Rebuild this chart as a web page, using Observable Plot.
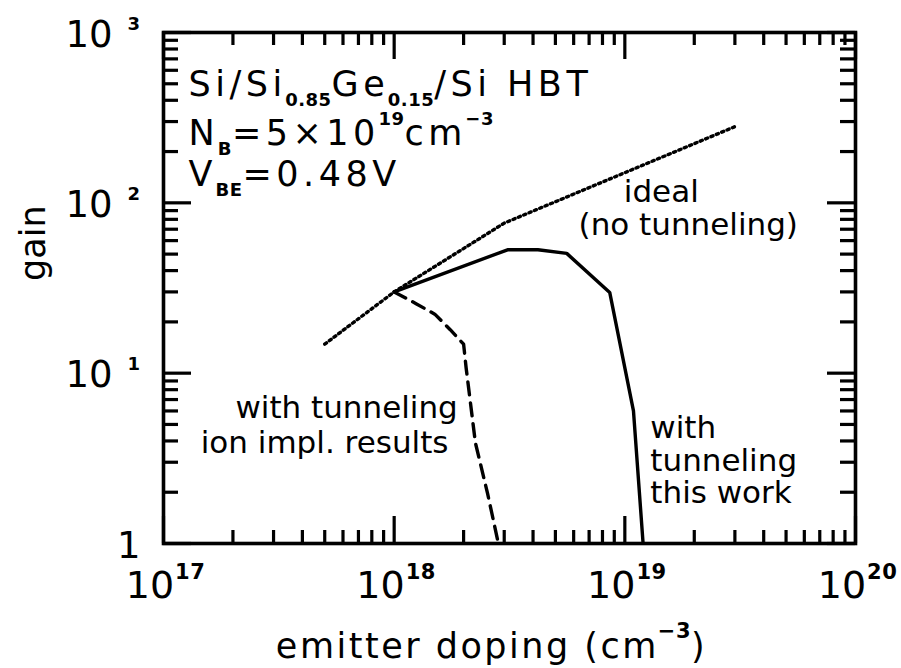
<!DOCTYPE html>
<html>
<head>
<meta charset="utf-8">
<script src="https://cdn.jsdelivr.net/npm/d3@7"></script>
<script src="https://cdn.jsdelivr.net/npm/@observablehq/plot@0.6"></script>
<style>
  html, body { margin: 0; padding: 0; background: #fff; }
  #chart svg { display: block; }
</style>
</head>
<body>
<div id="chart"></div>
<script>
// Current gain versus emitter doping (cm^-3) for a Si/SiGe/Si HBT
const idealDoping = [5e17, 1e18, 3e18, 3e19];
const idealGain = [14.8, 30, 76, 280];

const thisWorkDoping = [1e18, 3.1e18, 4.2e18, 5.6e18, 8.6e18, 1.09e19, 1.2e19];
const thisWorkGain = [30, 53, 53, 50.5, 29.8, 6.0, 1];

const ionImplDoping = [1e18, 1.25e18, 1.5e18, 1.75e18, 2e18, 2.05e18, 2.25e18, 2.54e18, 2.83e18];
const ionImplGain = [30, 25.5, 22.2, 18, 14.8, 10.8, 3.9, 1.97, 1];

// Axis ticks and their labels
const xMajor = [1e17, 1e18, 1e19, 1e20];
const xMinor = [1e17, 1e18, 1e19].flatMap(d => [2, 3, 4, 5, 6, 7, 8, 9].map(k => k * d));
const xTickLabels = ["10^{17}", "10^{18}", "10^{19}", "10^{20}"];
const yMajor = [1, 10, 100, 1000];
const yMinor = [1, 10, 100].flatMap(d => [2, 3, 4, 5, 6, 7, 8, 9].map(k => k * d));
const yTickLabels = ["1", "10^{1}", "10^{2}", "10^{3}"];

// Annotation text
const titleLines = ["Si/Si_{0.85}Ge_{0.15}/Si HBT", "N_{B}=5×10^{19}cm^{−3}", "V_{BE}=0.48V"];
const xLabel = "emitter doping (cm^{−3})";
const yLabel = "gain";

const series = (xs, ys) => xs.map((x, i) => ({x, y: ys[i]}));

const W = 901, H = 668;
const mL = 163, mR = 46, mT = 32, mB = 125;
const fw = W - mL - mR, fh = H - mT - mB;
const sw = 3.2;

const chart = Plot.plot({
  width: W,
  height: H,
  marginLeft: mL,
  marginRight: mR,
  marginTop: mT,
  marginBottom: mB,
  x: {type: "log", domain: [1e17, 1e20], axis: null},
  y: {type: "log", domain: [1, 1000], axis: null},
  style: {fontFamily: "'DejaVu Sans', sans-serif", color: "#000", background: "#fff"},
  marks: [
    // curves
    Plot.line(series(idealDoping, idealGain), {x: "x", y: "y", stroke: "#000", strokeWidth: 3.4, strokeDasharray: "2.2,3.6", clip: true}),
    Plot.line(series(thisWorkDoping, thisWorkGain), {x: "x", y: "y", stroke: "#000", strokeWidth: 3.4, clip: true}),
    Plot.line(series(ionImplDoping, ionImplGain), {x: "x", y: "y", stroke: "#000", strokeWidth: 3.4, strokeDasharray: "13,8", clip: true}),

    // frame with inward ticks on all four sides
    Plot.frame({stroke: "#000", strokeWidth: 3.6}),
    Plot.tickX(xMajor, {x: d => d, insetTop: fh - 27, strokeWidth: sw}),
    Plot.tickX(xMajor, {x: d => d, insetBottom: fh - 27, strokeWidth: sw}),
    Plot.tickX(xMinor, {x: d => d, insetTop: fh - 13, strokeWidth: sw}),
    Plot.tickX(xMinor, {x: d => d, insetBottom: fh - 13, strokeWidth: sw}),
    Plot.tickY(yMajor, {y: d => d, insetRight: fw - 28, strokeWidth: sw}),
    Plot.tickY(yMajor, {y: d => d, insetLeft: fw - 28, strokeWidth: sw}),
    Plot.tickY(yMinor, {y: d => d, insetRight: fw - 15, strokeWidth: sw}),
    Plot.tickY(yMinor, {y: d => d, insetLeft: fw - 15, strokeWidth: sw}),

    // tick labels
    Plot.text(xMajor, {x: d => d, text: (d, i) => xTickLabels[i], frameAnchor: "bottom", lineAnchor: "bottom",
      dx: 2, dy: 54, fontSize: 38, ariaDescription: "x-tick-labels"}),
    Plot.text(yMajor, {y: d => d, text: (d, i) => yTickLabels[i], frameAnchor: "left", textAnchor: "end", lineAnchor: "bottom",
      dx: -23, dy: 14, fontSize: 37, ariaDescription: "y-tick-labels"}),

    // axis titles
    Plot.text([xLabel], {text: d => d, frameAnchor: "bottom", lineAnchor: "bottom", dx: -18, dy: 114, fontSize: 35, ariaDescription: "x-label"}),
    Plot.text([yLabel], {text: d => d, frameAnchor: "left", lineAnchor: "bottom", rotate: -90, dx: -119, dy: -7, fontSize: 35, ariaDescription: "y-label"}),

    // device parameters
    ...titleLines.map((line, i) => Plot.text([line], {text: d => d, frameAnchor: "top-left", textAnchor: "start", lineAnchor: "bottom",
      dx: 25, dy: [63, 112, 153][i], fontSize: 35, ariaDescription: "title-text"})),

    // curve labels
    Plot.text(["ideal"], {text: d => d, x: 9.9e18, y: 101, textAnchor: "start", lineAnchor: "bottom", fontSize: 31}),
    Plot.text(["(no tunneling)"], {text: d => d, x: 6.3e18, y: 64.5, textAnchor: "start", lineAnchor: "bottom", fontSize: 31}),
    Plot.text(["with tunneling"], {text: d => d, x: 2.05e17, y: 5.42, textAnchor: "start", lineAnchor: "bottom", fontSize: 31}),
    Plot.text(["ion impl. results"], {text: d => d, x: 1.45e17, y: 3.42, textAnchor: "start", lineAnchor: "bottom", fontSize: 31}),
    Plot.text(["with\ntunneling\nthis work"], {text: d => d, x: 1.29e19, y: 1.72, textAnchor: "start", lineAnchor: "bottom",
      lineHeight: 1.05, fontSize: 31})
  ]
});

// Turn _{...} and ^{...} markup into subscript / superscript tspans
const richStyles = {
  "x-tick-labels": {supSize: 21, supShift: -19, gap: 1},
  "y-tick-labels": {supSize: 18, supShift: -17, gap: 15},
  "x-label": {supSize: 21, supShift: -20, gap: -1, letterSpacing: 2.5},
  "title-text": {supSize: 18, supShift: -20, subSize: 18, subShift: 10, gap: -1.5, letterSpacing: 4.5}
};
const SVGNS = "http://www.w3.org/2000/svg";
chart.querySelectorAll("text").forEach(t => {
  const g = t.closest("g[aria-description]");
  const st = richStyles[g && g.getAttribute("aria-description")] || {supSize: 18, supShift: -18, subSize: 18, subShift: 9, gap: 1};
  if (st.letterSpacing) t.setAttribute("letter-spacing", st.letterSpacing);
  const s = t.textContent;
  if (!/[_^]\{/.test(s)) return;
  t.textContent = "";
  const re = /([_^])\{([^}]*)\}|([^_^]+)/g;
  let m, shift = 0;
  while ((m = re.exec(s))) {
    const ts = document.createElementNS(SVGNS, "tspan");
    let target = 0;
    if (m[1]) {
      const sup = m[1] === "^";
      target = sup ? st.supShift : st.subShift;
      ts.textContent = m[2];
      ts.setAttribute("font-size", sup ? st.supSize : st.subSize);
      ts.setAttribute("font-weight", "bold");
      ts.setAttribute("letter-spacing", 0.5);
      if (st.gap) ts.setAttribute("dx", st.gap);
    } else {
      ts.textContent = m[3];
    }
    if (target !== shift) { ts.setAttribute("dy", target - shift); shift = target; }
    t.appendChild(ts);
  }
});

document.getElementById("chart").appendChild(chart);
</script>
</body>
</html>
